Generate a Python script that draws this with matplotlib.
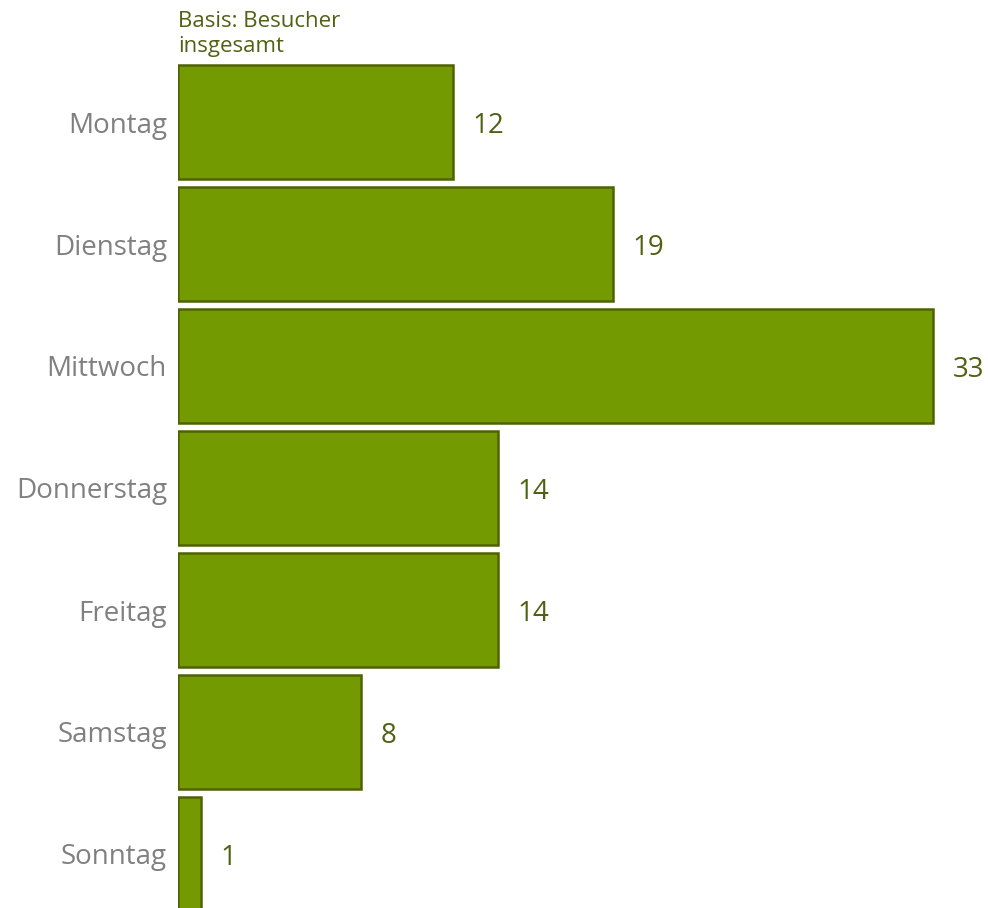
#!/usr/bin/env python3
import matplotlib
matplotlib.use("Agg")
import matplotlib.pyplot as plt

# Besucher nach Wochentag
days = ['Montag', 'Dienstag', 'Mittwoch', 'Donnerstag', 'Freitag', 'Samstag', 'Sonntag']
values = [12, 19, 33, 14, 14, 8, 1]

bar_color = '#739a00'
edge_color = '#4e6300'
text_green = '#4f6212'
label_gray = '#808080'

plt.rcParams['font.family'] = ['Open Sans', 'DejaVu Sans']

fig = plt.figure(figsize=(9.88, 9.08), dpi=100)
ax = fig.add_axes([178 / 988, 0.0, 1 - 178 / 988, 1.0])

pos = list(range(len(days)))
bars = ax.barh(pos, values, height=0.93, color=bar_color,
               edgecolor=edge_color, linewidth=1.8, clip_on=True)

for b, v in zip(bars, values):
    ax.annotate(str(v), xy=(b.get_width(), b.get_y() + b.get_height() / 2),
                xytext=(14, -3), textcoords='offset points',
                va='center', ha='left', fontsize=20, color=text_green,
                annotation_clip=False)

ax.set_yticks(pos)
ax.set_yticklabels(days, fontsize=20, color=label_gray)
ax.tick_params(axis='y', length=0, pad=8)
ax.set_xticks([])
for s in ax.spines.values():
    s.set_visible(False)

ax.set_xlim(0, (988 - 178) / 22.88)
ax.set_ylim((908 - 122) / 122, -1.0)

ax.text(0, -0.53, 'Basis: Besucher\ninsgesamt', ha='left', va='bottom',
        fontsize=16, color=text_green, linespacing=1.3)

fig.savefig('out.png', dpi=100)
